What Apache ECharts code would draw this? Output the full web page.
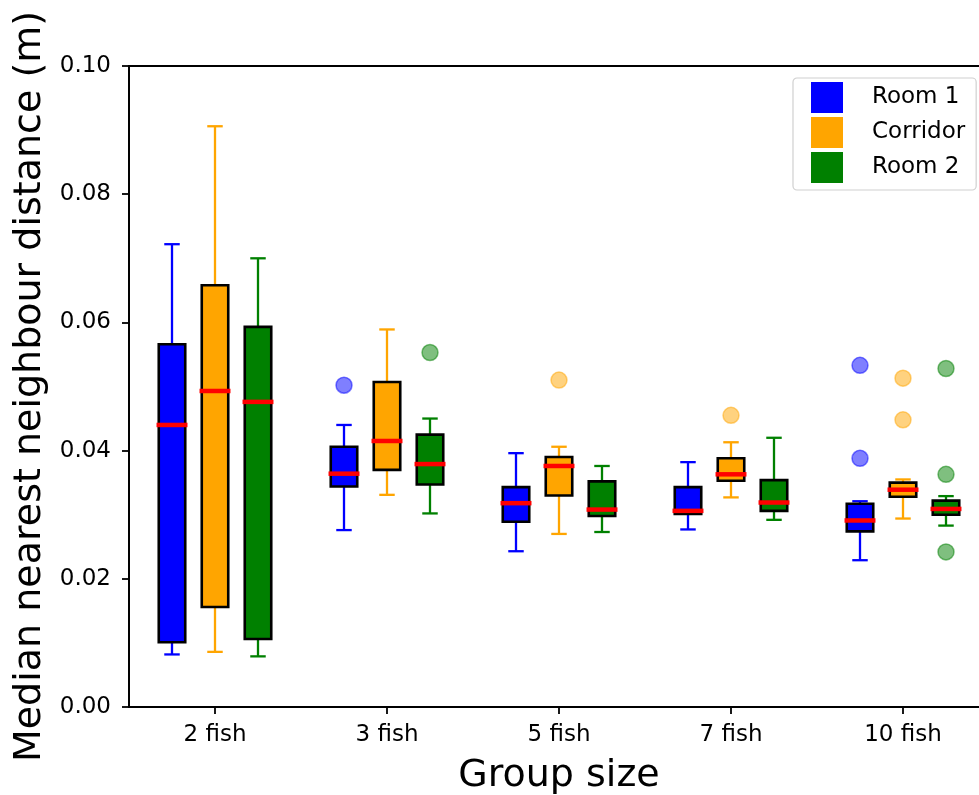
<!DOCTYPE html>
<html>
<head>
<meta charset="utf-8">
<script src="https://cdn.jsdelivr.net/npm/echarts@6/dist/echarts.min.js"></script>
<style>
html,body{margin:0;padding:0;background:#fff;}
#chart{width:979px;height:795px;}
</style>
</head>
<body>
<div id="chart"></div>
<script>
// ---- data ----
const categories = ['2 fish', '3 fish', '5 fish', '7 fish', '10 fish'];
const seriesNames = ['Room 1', 'Corridor', 'Room 2'];
const yTicks = [0, 0.02, 0.04, 0.06, 0.08, 0.10];

// each row: [whisker low, Q1, median, Q3, whisker high]
const room1Box = [
  [0.0082, 0.0101, 0.0440, 0.0566, 0.0722],
  [0.0276, 0.0344, 0.0364, 0.0406, 0.0440],
  [0.0243, 0.0289, 0.0318, 0.0343, 0.0396],
  [0.0277, 0.0301, 0.0306, 0.0343, 0.0382],
  [0.0229, 0.0274, 0.0291, 0.0317, 0.0321]
];
const corridorBox = [
  [0.0086, 0.0156, 0.0493, 0.0658, 0.0906],
  [0.0331, 0.0370, 0.0415, 0.0507, 0.0589],
  [0.0270, 0.0330, 0.0376, 0.0390, 0.0406],
  [0.0327, 0.0353, 0.0363, 0.0388, 0.0413],
  [0.0294, 0.0328, 0.0339, 0.0350, 0.0355]
];
const room2Box = [
  [0.0079, 0.0106, 0.0476, 0.0593, 0.0700],
  [0.0302, 0.0347, 0.0379, 0.0425, 0.0450],
  [0.0273, 0.0298, 0.0308, 0.0352, 0.0376],
  [0.0292, 0.0306, 0.0319, 0.0354, 0.0420],
  [0.0283, 0.0300, 0.0309, 0.0322, 0.0329]
];
// outliers: [category index, value]
const room1Outliers = [[1, 0.0502], [4, 0.0533], [4, 0.0388]];
const corridorOutliers = [[2, 0.0510], [3, 0.0455], [4, 0.0513], [4, 0.0448]];
const room2Outliers = [[1, 0.0553], [4, 0.0528], [4, 0.0363], [4, 0.0242]];

// ---- styling ----
const colors = ['#0000ff', '#ffa500', '#008000'];
const offsets = [-0.25, 0, 0.25]; // fraction of category band
const FONT = 'DejaVu Sans';

function boxRender(offFrac, color) {
  return function (params, api) {
    const cat = api.value(0);
    const band = api.size([1, 0])[0];
    const pLow = api.coord([cat, api.value(1)]);
    const pQ1 = api.coord([cat, api.value(2)]);
    const pMed = api.coord([cat, api.value(3)]);
    const pQ3 = api.coord([cat, api.value(4)]);
    const pHigh = api.coord([cat, api.value(5)]);
    const x = pLow[0] + offFrac * band;
    const hw = band * 0.077;
    const cap = band * 0.045;
    const mw = band * 0.09;
    const lineStyle = { stroke: color, lineWidth: 2.3 };
    return {
      type: 'group',
      children: [
        { type: 'line', shape: { x1: x, y1: pQ1[1], x2: x, y2: pLow[1] }, style: lineStyle },
        { type: 'line', shape: { x1: x - cap, y1: pLow[1], x2: x + cap, y2: pLow[1] }, style: lineStyle },
        { type: 'line', shape: { x1: x, y1: pQ3[1], x2: x, y2: pHigh[1] }, style: lineStyle },
        { type: 'line', shape: { x1: x - cap, y1: pHigh[1], x2: x + cap, y2: pHigh[1] }, style: lineStyle },
        { type: 'rect', shape: { x: x - hw, y: pQ3[1], width: 2 * hw, height: pQ1[1] - pQ3[1] },
          style: { fill: color, stroke: '#000', lineWidth: 2.6 } },
        { type: 'line', shape: { x1: x - mw, y1: pMed[1], x2: x + mw, y2: pMed[1] },
          style: { stroke: '#ff0000', lineWidth: 4.5 } }
      ]
    };
  };
}

function outlierRender(offFrac, color) {
  return function (params, api) {
    const cat = api.value(0);
    const band = api.size([1, 0])[0];
    const p = api.coord([cat, api.value(1)]);
    return {
      type: 'circle',
      shape: { cx: p[0] + offFrac * band, cy: p[1], r: 8 },
      style: { fill: color, stroke: color, lineWidth: 1.5, opacity: 0.5 }
    };
  };
}

const boxSets = [room1Box, corridorBox, room2Box];
const outSets = [room1Outliers, corridorOutliers, room2Outliers];
const series = [];
seriesNames.forEach(function (name, i) {
  series.push({
    name: name,
    type: 'custom',
    renderItem: boxRender(offsets[i], colors[i]),
    itemStyle: { color: colors[i] },
    encode: { x: 0, y: [1, 2, 3, 4, 5] },
    data: boxSets[i].map(function (r, k) { return [k].concat(r); }),
    z: 3
  });
  series.push({
    name: name + ' outliers',
    type: 'custom',
    renderItem: outlierRender(offsets[i], colors[i]),
    itemStyle: { color: colors[i] },
    encode: { x: 0, y: 1 },
    data: outSets[i],
    z: 4
  });
});

const chart = echarts.init(document.getElementById('chart'));
chart.setOption({
  animation: false,
  backgroundColor: '#ffffff',
  textStyle: { fontFamily: FONT, color: '#000' },
  grid: {
    left: 129, top: 66, width: 860, height: 641,
    outerBoundsMode: 'none', containLabel: false,
    show: true, borderColor: '#000', borderWidth: 1.8, backgroundColor: 'transparent'
  },
  legend: {
    data: seriesNames.map(function (n) { return { name: n, icon: 'rect' }; }),
    orient: 'vertical',
    left: 793, top: 78,
    itemWidth: 32, itemHeight: 31, itemGap: 4,
    padding: [4, 11, 7, 18],
    backgroundColor: '#ffffff',
    borderColor: '#d0d0d0', borderWidth: 1.2, borderRadius: 4,
    itemStyle: { borderWidth: 0 },
    textStyle: { fontFamily: FONT, fontSize: 23, color: '#000', padding: [0, 0, 0, 24] }
  },
  xAxis: {
    type: 'category',
    data: categories,
    boundaryGap: true,
    name: 'Group size',
    nameLocation: 'middle',
    nameGap: 50,
    nameTextStyle: { fontFamily: FONT, fontSize: 38, color: '#000' },
    axisLine: { show: true, lineStyle: { color: '#000', width: 1.8 } },
    axisTick: { show: true, alignWithLabel: true, length: 7, lineStyle: { color: '#000', width: 1.8 } },
    axisLabel: { fontFamily: FONT, fontSize: 23, color: '#000', margin: 17 },
    splitLine: { show: false }
  },
  yAxis: {
    type: 'value',
    min: yTicks[0], max: yTicks[yTicks.length - 1], interval: 0.02,
    name: 'Median nearest neighbour distance (m)',
    nameLocation: 'middle',
    nameGap: 79,
    nameTextStyle: { fontFamily: FONT, fontSize: 38, color: '#000' },
    axisLine: { show: true, lineStyle: { color: '#000', width: 1.8 } },
    axisTick: { show: true, length: 7, lineStyle: { color: '#000', width: 1.8 } },
    axisLabel: { fontFamily: FONT, fontSize: 23, color: '#000', margin: 18,
      formatter: function (v) { return v.toFixed(2); } },
    splitLine: { show: false }
  },
  series: series
});
</script>
</body>
</html>
